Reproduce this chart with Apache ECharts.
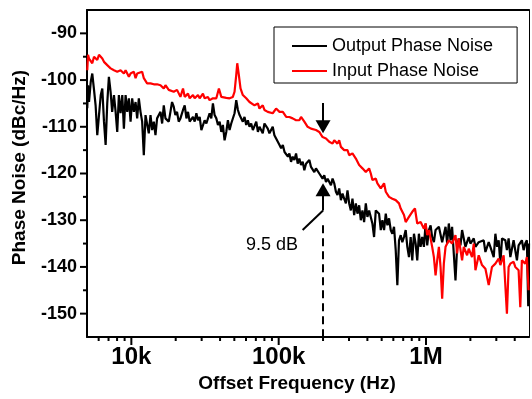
<!DOCTYPE html>
<html lang="en">
<head>
<meta charset="UTF-8">
<title>Phase Noise</title>
<script src="https://cdn.jsdelivr.net/npm/echarts@6/dist/echarts.min.js"></script>
</head>
<body style="margin:0">
<div id="chart" style="width:532px;height:399px"></div>
<script>
// offset frequency (Hz) / phase noise (dBc/Hz)
var outputFreq = [
  5020, 5080, 5160, 5300, 5430, 5580, 5720, 5870, 6030, 6200,
  6350, 6520, 6690, 6860, 7040, 7230, 7410, 7620, 7820, 8020,
  8230, 8450, 8680, 8900, 9140, 9380, 9620, 9880, 10130, 10400,
  10680, 10950, 11240, 11540, 11840, 12150, 12480, 12790, 13130, 13490,
  13840, 14200, 14580, 14950, 15770, 16180, 16600, 17040, 17480, 17940,
  18420, 18890, 19390, 19900, 20420, 20960, 21530, 22420, 23020, 23650,
  24240, 24890, 26200, 26910, 27620, 28330, 29090, 29860, 31440, 32290,
  33980, 34880, 35780, 36730, 37730, 38710, 39740, 40780, 41810, 42920,
  44090, 45220, 46410, 47640, 50170, 51520, 52860, 54270, 57100, 58630,
  60210, 61770, 63380, 65070, 66790, 70440, 72280, 74060, 77960, 80050,
  84290, 86540, 91100, 93510, 96050, 101300, 103900, 106700, 109600, 112500,
  115500, 118200, 121300, 124400, 127800, 131200, 134600, 138100, 141800, 145600,
  149300, 153300, 161500, 165700, 169900, 174500, 179100, 183800, 188600, 198600,
  203900, 209400, 214900, 220400, 226300, 232100, 238300, 244600, 250700, 257500,
  264400, 271200, 278400, 285800, 293100, 300900, 308900, 316800, 325300, 334000,
  342600, 351600, 361000, 370200, 380000, 390300, 400200, 410900, 432500, 444100,
  456000, 480000, 493100, 505800, 519100, 533100, 546800, 561000, 576100, 590700,
  606500, 622800, 638800, 655700, 673300, 690500, 708800, 727800, 746700, 766200,
  786800, 806600, 828200, 850400, 871900, 894600, 918500, 942500, 967800, 993800,
  1019000, 1046000, 1074000, 1101000, 1131000, 1161000, 1223000, 1287000, 1357000, 1392000,
  1428000, 1467000, 1503000, 1585000, 1626000, 1669000, 1713000, 1757000, 1804000, 1851000,
  1950000, 2001000, 2109000, 2165000, 2279000, 2339000, 2464000, 2530000, 2664000, 2734000,
  2881000, 2957000, 3035000, 3113000, 3196000, 3280000, 3453000, 3541000, 3636000, 3735000,
  3931000, 4036000, 4141000, 4250000, 4474000, 4596000, 4717000, 4836000, 4940000, 5000000
];
var outputDb = [
  -106.0, -101.1, -104.7, -100.4, -98.6, -102.1, -105.4, -111.8, -107.5, -103.2,
  -101.8, -108.9, -113.9, -105.0, -99.3, -102.5, -106.8, -103.2, -106.8, -111.1,
  -103.2, -107.1, -103.2, -110.4, -103.2, -106.8, -103.9, -108.9, -103.9, -106.8,
  -104.7, -108.2, -103.9, -106.8, -108.9, -116.1, -107.5, -107.1, -111.4, -107.5,
  -110.7, -108.9, -111.8, -108.2, -106.8, -109.3, -105.4, -108.2, -107.9, -108.9,
  -106.8, -104.7, -105.7, -107.5, -106.8, -108.9, -108.2, -106.4, -105.4, -108.2,
  -106.8, -108.9, -107.9, -108.9, -107.1, -108.6, -107.9, -110.7, -108.6, -109.3,
  -107.1, -108.2, -105.0, -107.5, -108.2, -109.6, -108.9, -111.1, -109.6, -112.9,
  -111.1, -108.6, -110.7, -109.3, -107.1, -104.3, -106.4, -107.5, -108.9, -107.9,
  -109.6, -108.6, -110.0, -109.3, -110.7, -108.9, -111.1, -110.0, -111.4, -109.3,
  -110.4, -111.4, -110.0, -111.8, -112.5, -113.9, -114.6, -113.9, -115.4, -115.4,
  -116.4, -115.7, -117.5, -116.4, -117.1, -115.7, -117.9, -116.8, -118.2, -117.5,
  -119.3, -117.9, -117.1, -118.6, -118.2, -119.7, -118.9, -118.6, -120.0, -121.1,
  -120.4, -121.8, -121.1, -121.4, -122.5, -121.1, -122.1, -123.9, -124.6, -123.2,
  -125.7, -124.3, -125.4, -126.4, -123.6, -126.4, -127.9, -125.4, -128.9, -126.4,
  -128.6, -126.8, -130.0, -127.9, -130.4, -126.4, -129.3, -127.9, -130.7, -133.6,
  -127.9, -128.6, -132.1, -130.0, -132.1, -128.6, -131.1, -129.6, -132.1, -132.9,
  -131.4, -136.4, -143.9, -134.3, -133.2, -134.7, -133.6, -132.1, -135.7, -137.9,
  -133.6, -138.6, -132.9, -135.0, -138.6, -132.9, -135.7, -133.6, -135.7, -130.7,
  -135.4, -132.1, -131.1, -133.6, -134.7, -132.1, -131.4, -134.7, -131.4, -135.0,
  -130.7, -134.3, -131.4, -142.9, -135.7, -133.9, -135.4, -132.1, -133.9, -135.7,
  -133.6, -135.0, -133.9, -135.7, -134.7, -135.0, -134.3, -136.8, -134.7, -135.7,
  -137.9, -132.9, -135.7, -134.3, -139.3, -133.9, -134.3, -136.4, -133.9, -137.9,
  -134.3, -133.9, -138.6, -135.4, -134.3, -136.4, -135.0, -134.3, -148.4, -135.0
];
var inputFreq = [
  5020, 5080, 5160, 5300, 5430, 5580, 5870, 6030, 6350, 6520,
  6690, 6860, 7230, 7620, 7820, 8020, 8450, 8900, 9140, 9620,
  9880, 10400, 10680, 10950, 11240, 11840, 12150, 12480, 12790, 13490,
  14200, 14950, 15770, 16600, 17040, 17940, 18420, 19390, 20420, 21530,
  22420, 23020, 24240, 24890, 26200, 26910, 28330, 29090, 30610, 31440,
  33100, 33980, 35780, 37730, 39290, 40780, 41810, 44090, 46410, 48850,
  50170, 51520, 52330, 53640, 55080, 57100, 60210, 63380, 65070, 68500,
  72280, 74060, 77960, 80050, 84290, 91100, 96050, 101300, 106700, 112500,
  118200, 124400, 131200, 138100, 141800, 149300, 157200, 165700, 169900, 179100,
  188600, 198600, 209400, 220400, 232100, 238300, 250700, 257500, 264400, 278400,
  293100, 300900, 316800, 334000, 351600, 370200, 390300, 400200, 410900, 421900,
  432500, 456000, 467700, 493100, 519100, 533100, 561000, 590700, 622800, 655700,
  673300, 708800, 727800, 766200, 806600, 841200, 871900, 919300, 942500, 967800,
  993800, 1019000, 1046000, 1074000, 1101000, 1131000, 1161000, 1191000, 1223000, 1255000,
  1287000, 1321000, 1357000, 1428000, 1503000, 1585000, 1626000, 1669000, 1757000, 1804000,
  1900000, 1950000, 2053000, 2109000, 2165000, 2279000, 2399000, 2530000, 2664000, 2804000,
  2957000, 3113000, 3196000, 3364000, 3541000, 3636000, 3735000, 3931000, 4036000, 4250000,
  4364000, 4474000, 4717000, 4836000, 4966000
];
var inputDb = [
  -97.9, -94.6, -95.4, -95.7, -96.4, -95.0, -95.7, -94.6, -95.4, -96.1,
  -96.4, -96.8, -97.5, -97.9, -97.5, -98.2, -97.9, -98.6, -97.9, -99.3,
  -98.6, -98.2, -99.6, -98.6, -98.9, -98.2, -99.6, -100.0, -100.7, -100.7,
  -100.9, -100.9, -101.1, -101.8, -101.1, -102.1, -101.8, -102.5, -102.1, -103.6,
  -101.8, -103.6, -102.9, -103.9, -103.2, -103.9, -103.2, -103.9, -102.9, -103.9,
  -103.6, -104.3, -103.9, -103.9, -101.8, -103.6, -103.9, -103.8, -103.9, -103.6,
  -102.5, -98.9, -96.4, -98.9, -101.8, -103.2, -103.9, -104.7, -104.3, -105.4,
  -105.0, -106.1, -105.4, -106.4, -106.8, -107.1, -106.1, -106.8, -106.8, -107.9,
  -107.9, -108.2, -108.6, -108.6, -107.9, -108.9, -110.0, -110.4, -110.0, -110.7,
  -111.1, -112.2, -112.5, -113.2, -113.6, -112.9, -113.6, -112.9, -114.3, -115.0,
  -115.0, -116.1, -115.7, -116.8, -118.2, -118.9, -119.7, -119.3, -118.9, -120.0,
  -121.4, -121.1, -122.1, -123.2, -122.1, -123.9, -125.0, -125.4, -125.7, -126.4,
  -127.5, -128.9, -130.4, -129.3, -128.2, -127.5, -130.7, -130.4, -131.1, -131.8,
  -130.7, -133.2, -132.1, -133.9, -135.7, -137.9, -141.8, -138.6, -135.7, -140.0,
  -146.8, -139.3, -135.7, -134.3, -135.0, -133.2, -137.1, -133.9, -138.6, -135.7,
  -137.5, -136.1, -137.9, -135.0, -140.7, -137.5, -139.6, -140.4, -143.9, -140.0,
  -139.3, -138.2, -139.6, -137.5, -150.0, -140.0, -139.3, -138.9, -140.0, -140.7,
  -148.6, -138.6, -139.3, -137.9, -145.0
];

var seriesNames = ['Output Phase Noise', 'Input Phase Noise'];
var xTickValues = [10000, 100000, 1000000];
var xTickLabels = ['10k', '100k', '1M'];
var xMinorTicks = [6000, 7000, 8000, 9000, 20000, 30000, 40000, 50000, 60000, 70000, 80000, 90000,
  200000, 300000, 400000, 500000, 600000, 700000, 800000, 900000, 2000000, 3000000, 4000000];
var yTickValues = [-150, -140, -130, -120, -110, -100, -90];
var yMinorTicks = [-145, -135, -125, -115, -105, -95];
var markFreq = 200000;        // arrows + dashed line
var noteText = '9.5 dB';

var xMin = 5000, xMax = 5000000, yMin = -155, yMax = -85;
var font = 'Liberation Sans, Arial, sans-serif';

function zip(a, b) {
  return a.map(function (v, i) { return [v, b[i]]; });
}

// ticks drawn by hand: [x, y, length, 0 = bottom axis / 1 = left axis]
var tickData = [];
xTickValues.forEach(function (v) { tickData.push([v, yMin, 8, 0]); });
xMinorTicks.forEach(function (v) { tickData.push([v, yMin, 4, 0]); });
yTickValues.forEach(function (v) { tickData.push([xMin, v, 7, 1]); });
yMinorTicks.forEach(function (v) { tickData.push([xMin, v, 4, 1]); });

function renderTick(params, api) {
  var p = api.coord([api.value(0), api.value(1)]);
  var len = api.value(2);
  var horiz = api.value(3) === 1;
  return {
    type: 'line',
    shape: { x1: p[0], y1: p[1], x2: horiz ? p[0] - len : p[0], y2: horiz ? p[1] : p[1] + len },
    style: { stroke: '#000', lineWidth: 2 }
  };
}

var chart = echarts.init(document.getElementById('chart'));
var option = {
  animation: false,
  grid: { left: 87, right: 1, top: 10, bottom: 62 },
  legend: {
    data: seriesNames,
    orient: 'vertical',
    left: 274, top: 27,
    padding: [10, 24, 3, 18],
    icon: 'rect',
    itemWidth: 35, itemHeight: 2, itemGap: 7,
    borderColor: '#000', borderWidth: 1, borderRadius: 0,
    backgroundColor: '#fff',
    textStyle: { fontFamily: font, fontSize: 18, color: '#000' }
  },
  xAxis: [{
    type: 'log', min: xMin, max: xMax,
    axisLine: { onZero: false, lineStyle: { color: '#000', width: 2 } },
    axisTick: { show: false },
    splitLine: { show: false },
    axisLabel: {
      margin: 8,
      fontFamily: font, fontSize: 24, fontWeight: 'bold', color: '#000',
      formatter: function (v) {
        for (var i = 0; i < xTickValues.length; i++) {
          if (Math.abs(Math.log10(v) - Math.log10(xTickValues[i])) < 1e-6) return xTickLabels[i];
        }
        return '';
      }
    },
    name: 'Offset Frequency (Hz)',
    nameLocation: 'middle', nameGap: 36,
    nameTextStyle: { fontFamily: font, fontSize: 19, fontWeight: 'bold', color: '#000', padding: [0, 22, 0, 0] }
  }, {
    type: 'log', min: xMin, max: xMax, position: 'top',
    axisLine: { onZero: false, lineStyle: { color: '#000', width: 2 } },
    axisTick: { show: false }, axisLabel: { show: false }, splitLine: { show: false }
  }],
  yAxis: [{
    type: 'value', min: yMin, max: yMax, splitNumber: 7,
    axisLine: { show: true, lineStyle: { color: '#000', width: 2 } },
    axisTick: { show: false },
    splitLine: { show: false },
    axisLabel: {
      margin: 10,
      fontFamily: font, fontSize: 18, fontWeight: 'bold', color: '#000',
      formatter: function (v) { return v % 10 === 0 ? String(v) : ''; }
    },
    name: 'Phase Noise (dBc/Hz)',
    nameLocation: 'middle', nameGap: 58,
    nameTextStyle: { fontFamily: font, fontSize: 19, fontWeight: 'bold', color: '#000', padding: [0, 0, 0, 12] }
  }, {
    type: 'value', min: yMin, max: yMax, position: 'right',
    axisLine: { show: true, lineStyle: { color: '#000', width: 1 } },
    axisTick: { show: false }, axisLabel: { show: false }, splitLine: { show: false }
  }],
  series: [{
    name: seriesNames[0],
    type: 'line',
    data: zip(outputFreq, outputDb),
    symbol: 'none',
    lineStyle: { color: '#000', width: 2.2 },
    itemStyle: { color: '#000' },
    markLine: {
      silent: true,
      symbol: ['none', 'none'],
      label: { show: false },
      lineStyle: { color: '#000', width: 2, type: 'solid' },
      data: [
        [{ coord: [markFreq, -104.9] }, { coord: [markFreq, -110.0], symbol: 'triangle', symbolSize: [15, 13] }],
        [{ coord: [markFreq, -127.9] }, { coord: [markFreq, -123.5], symbol: 'triangle', symbolSize: [15, 13] }],
        [{ coord: [markFreq, -127.9] }, { coord: [145400, -132.1] }],
        [{ coord: [markFreq, -131.1], lineStyle: { type: [8, 5] } }, { coord: [markFreq, yMin] }]
      ]
    },
    markPoint: {
      silent: true,
      data: [{
        coord: [90000, -135.3],
        symbol: 'rect', symbolSize: 1,
        itemStyle: { color: 'rgba(0,0,0,0)' },
        label: { show: true, position: 'inside', formatter: noteText, color: '#000', fontFamily: font, fontSize: 18 }
      }]
    }
  }, {
    name: seriesNames[1],
    type: 'line',
    data: zip(inputFreq, inputDb),
    symbol: 'none',
    lineStyle: { color: '#ff0000', width: 2.2 },
    itemStyle: { color: '#ff0000' }
  }, {
    type: 'custom',
    clip: false,
    silent: true,
    renderItem: renderTick,
    data: tickData,
    z: 5
  }]
};
chart.setOption(option);
</script>
</body>
</html>
